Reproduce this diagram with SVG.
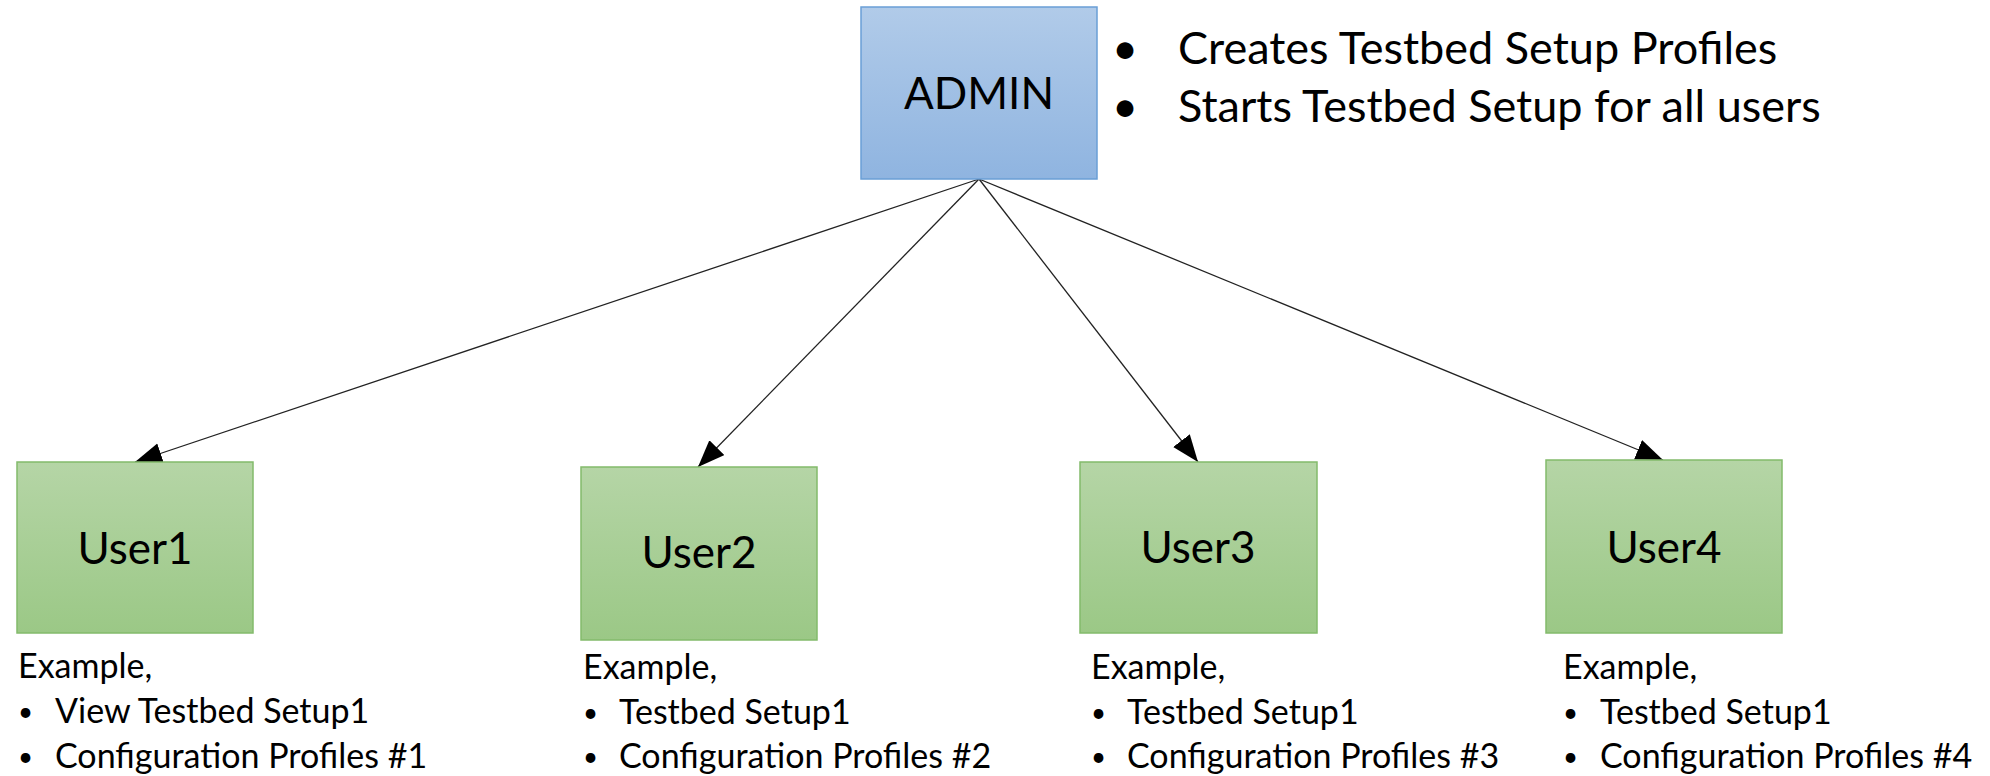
<svg xmlns="http://www.w3.org/2000/svg" width="1990" height="776" viewBox="0 0 1990 776">
  <defs>
    <linearGradient id="blueFill" x1="0" y1="0" x2="0" y2="1">
      <stop offset="0" stop-color="#b1cbe9"/>
      <stop offset="1" stop-color="#8fb4e0"/>
    </linearGradient>
    <linearGradient id="greenFill" x1="0" y1="0" x2="0" y2="1">
      <stop offset="0" stop-color="#b5d5a6"/>
      <stop offset="1" stop-color="#9bc886"/>
    </linearGradient>
    <marker id="arrow" markerUnits="userSpaceOnUse" markerWidth="28" markerHeight="22" refX="27" refY="10.5" orient="auto">
      <path d="M0,0 L27,10.5 L0,21 z" fill="#000"/>
    </marker>
  </defs>
  <style>
    text { font-family: Lato, "Open Sans", "Liberation Sans", sans-serif; fill: #000; }
    .admin { fill: url(#blueFill); stroke: #6a9fd6; stroke-width: 1.5; }
    .user { fill: url(#greenFill); stroke: #83bb6b; stroke-width: 1.5; }
    .title { font-size: 44px; text-anchor: middle; }
    .note { font-size: 45px; }
    .ex { font-size: 34px; }
    .dot { font-size: 26px; }
    .link { stroke: #222; stroke-width: 1.3; fill: none; marker-end: url(#arrow); }
  </style>

  <!-- links from the admin to each user -->
  <g id="connectors">
    <line class="link" x1="979" y1="179" x2="135" y2="462"/>
    <line class="link" x1="979" y1="179" x2="698" y2="467"/>
    <line class="link" x1="979" y1="179" x2="1198" y2="462"/>
    <line class="link" x1="979" y1="179" x2="1663" y2="460"/>
  </g>

  <g id="admin">
    <rect class="admin" x="861" y="7" width="236" height="172"/>
    <text class="title" x="979" y="109">ADMIN</text>
  </g>

  <g id="admin-notes">
    <text class="note" x="1112" y="64">•</text>
    <text class="note" x="1178" y="64">Creates Testbed Setup Profiles</text>
    <text class="note" x="1112" y="122">•</text>
    <text class="note" x="1178" y="122">Starts Testbed Setup for all users</text>
  </g>

  <g id="user1">
    <rect class="user" x="17" y="462" width="236" height="171"/>
    <text class="title" x="135" y="564">User1</text>
    <text class="ex" x="18" y="678">Example,</text>
    <text class="ex dot" x="18" y="721">•</text>
    <text class="ex" x="55" y="723">View Testbed Setup1</text>
    <text class="ex dot" x="18" y="766">•</text>
    <text class="ex" x="55" y="768">Configuration Profiles #1</text>
  </g>

  <g id="user2">
    <rect class="user" x="581" y="467" width="236" height="173"/>
    <text class="title" x="699" y="568">User2</text>
    <text class="ex" x="583" y="679">Example,</text>
    <text class="ex dot" x="583" y="722">•</text>
    <text class="ex" x="619" y="724">Testbed Setup1</text>
    <text class="ex dot" x="583" y="766">•</text>
    <text class="ex" x="619" y="768">Configuration Profiles #2</text>
  </g>

  <g id="user3">
    <rect class="user" x="1080" y="462" width="237" height="171"/>
    <text class="title" x="1198" y="563">User3</text>
    <text class="ex" x="1091" y="679">Example,</text>
    <text class="ex dot" x="1091" y="722">•</text>
    <text class="ex" x="1127" y="724">Testbed Setup1</text>
    <text class="ex dot" x="1091" y="766">•</text>
    <text class="ex" x="1127" y="768">Configuration Profiles #3</text>
  </g>

  <g id="user4">
    <rect class="user" x="1546" y="460" width="236" height="173"/>
    <text class="title" x="1664" y="563">User4</text>
    <text class="ex" x="1563" y="679">Example,</text>
    <text class="ex dot" x="1563" y="722">•</text>
    <text class="ex" x="1600" y="724">Testbed Setup1</text>
    <text class="ex dot" x="1563" y="766">•</text>
    <text class="ex" x="1600" y="768">Configuration Profiles #4</text>
  </g>
</svg>
